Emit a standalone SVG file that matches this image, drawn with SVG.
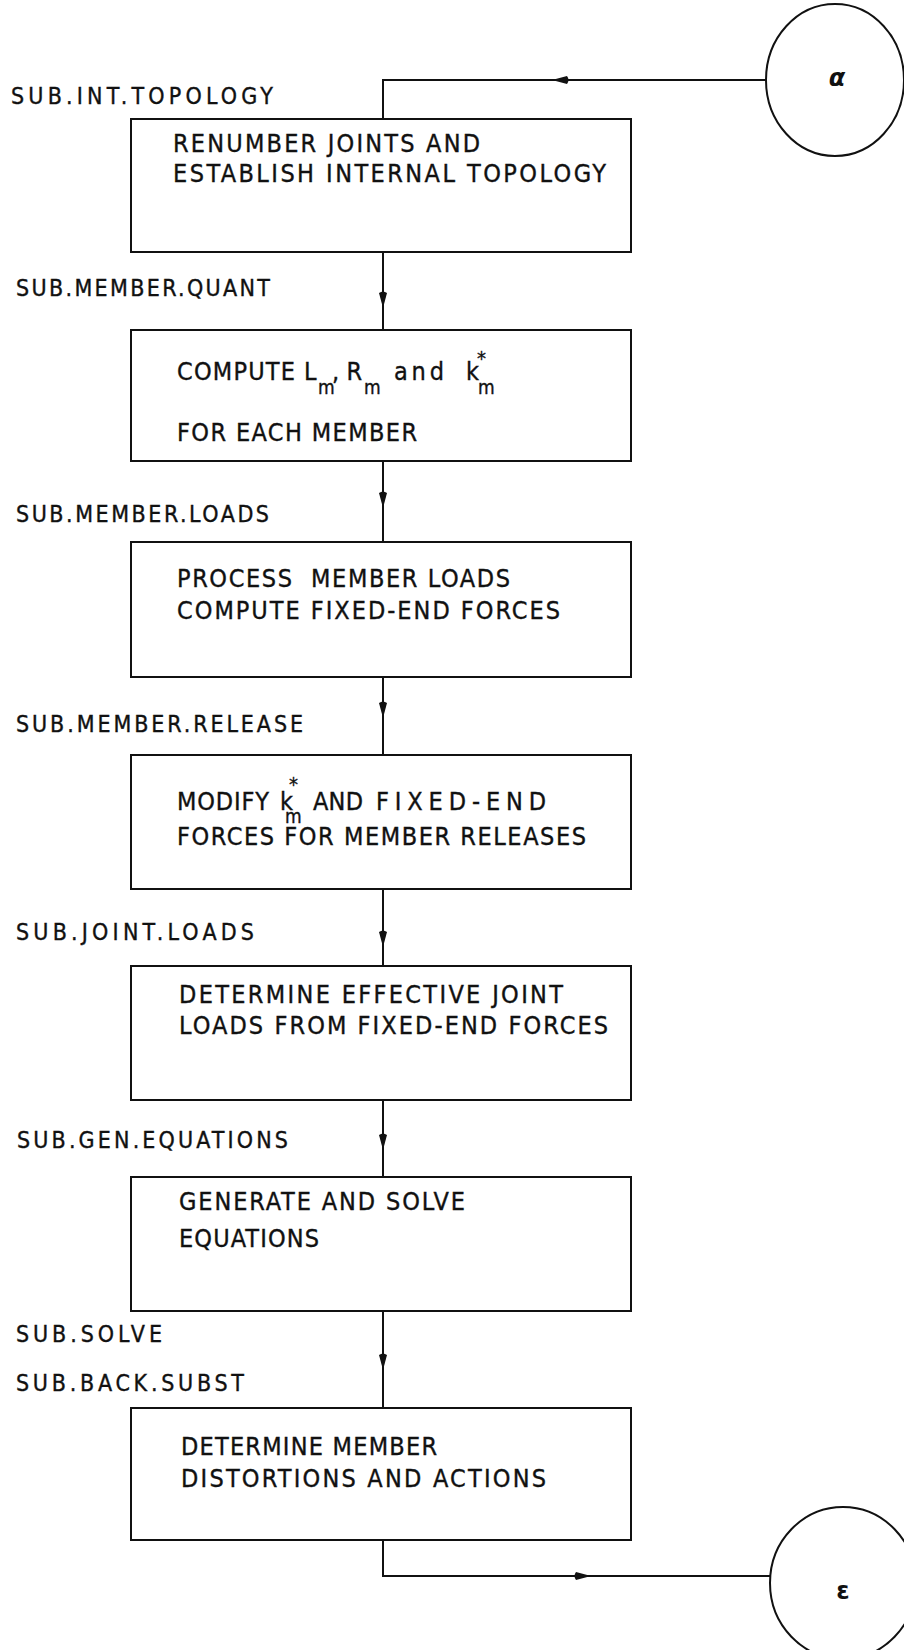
<svg xmlns="http://www.w3.org/2000/svg" width="904" height="1650" viewBox="0 0 904 1650">
<defs>
<marker id="arr" viewBox="0 0 18 10" refX="18" refY="5" markerWidth="18" markerHeight="10" markerUnits="userSpaceOnUse" orient="auto">
<path d="M18,5 L3,1 Q0,5 3,9 Z" fill="#111"/>
</marker>
<style>
.box{fill:#fff;stroke:#111;stroke-width:2}
.ln{fill:none;stroke:#111;stroke-width:2}
.lbl,.txt,.sub,.star{font-family:"DejaVu Sans Condensed","DejaVu Sans Mono",monospace;font-stretch:condensed;fill:#111;stroke:#111;stroke-width:0.35}
.lbl{font-size:23px}
.txt{font-size:25px}
.sub{font-size:19px}
.star{font-size:20px}
.greek{font-family:"DejaVu Sans","Liberation Sans",sans-serif;font-size:24px;fill:#111;text-anchor:middle;font-weight:bold}
</style>
</defs>
<rect width="904" height="1650" fill="#fff"/>

<g id="connectors">
<path class="ln" d="M766,80 L552,80" marker-end="url(#arr)"/>
<path class="ln" d="M552,80 L383,80 L383,119"/>
<path class="ln" d="M383,252 L383,308" marker-end="url(#arr)"/>
<path class="ln" d="M383,308 L383,330"/>
<path class="ln" d="M383,461 L383,508" marker-end="url(#arr)"/>
<path class="ln" d="M383,508 L383,542"/>
<path class="ln" d="M383,677 L383,718" marker-end="url(#arr)"/>
<path class="ln" d="M383,718 L383,755"/>
<path class="ln" d="M383,889 L383,947" marker-end="url(#arr)"/>
<path class="ln" d="M383,947 L383,966"/>
<path class="ln" d="M383,1100 L383,1150" marker-end="url(#arr)"/>
<path class="ln" d="M383,1150 L383,1177"/>
<path class="ln" d="M383,1311 L383,1370" marker-end="url(#arr)"/>
<path class="ln" d="M383,1370 L383,1408"/>
<path class="ln" d="M383,1540 L383,1576 L591,1576" marker-end="url(#arr)"/>
<path class="ln" d="M591,1576 L770,1576"/>
</g>

<g id="alpha">
<ellipse cx="835" cy="80" rx="69" ry="76" fill="none" stroke="#111" stroke-width="2"/>
<text class="greek" x="837" y="86" font-style="italic">α</text>
</g>

<g id="epsilon">
<ellipse cx="843" cy="1583" rx="73" ry="76" fill="none" stroke="#111" stroke-width="2"/>
<text class="greek" x="843" y="1599">ε</text>
</g>

<g id="labels">
<text class="lbl" x="11" y="104" textLength="262" lengthAdjust="spacing">SUB.INT.TOPOLOGY</text>
<text class="lbl" x="16" y="296" textLength="254" lengthAdjust="spacing">SUB.MEMBER.QUANT</text>
<text class="lbl" x="16" y="522" textLength="253" lengthAdjust="spacing">SUB.MEMBER.LOADS</text>
<text class="lbl" x="16" y="732" textLength="287" lengthAdjust="spacing">SUB.MEMBER.RELEASE</text>
<text class="lbl" x="16" y="940" textLength="238" lengthAdjust="spacing">SUB.JOINT.LOADS</text>
<text class="lbl" x="17" y="1148" textLength="271" lengthAdjust="spacing">SUB.GEN.EQUATIONS</text>
<text class="lbl" x="16" y="1342" textLength="146" lengthAdjust="spacing">SUB.SOLVE</text>
<text class="lbl" x="16" y="1391" textLength="228" lengthAdjust="spacing">SUB.BACK.SUBST</text>
</g>

<g id="box1">
<rect class="box" x="131" y="119" width="500" height="133"/>
<text class="txt" x="173" y="152" textLength="307" lengthAdjust="spacing">RENUMBER JOINTS AND</text>
<text class="txt" x="173" y="182" textLength="433" lengthAdjust="spacing">ESTABLISH INTERNAL TOPOLOGY</text>
</g>

<g id="box2">
<rect class="box" x="131" y="330" width="500" height="131"/>
<text class="txt" x="177" y="380" textLength="118" lengthAdjust="spacing">COMPUTE</text>
<text class="txt" x="304" y="380">L</text>
<text class="sub" x="318" y="394">m</text>
<text class="txt" x="332" y="380" textLength="30" lengthAdjust="spacing">,R</text>
<text class="sub" x="364" y="394">m</text>
<text class="txt" x="394" y="380" textLength="50" lengthAdjust="spacing">and</text>
<text class="txt" x="466" y="380">k</text>
<text class="star" x="477" y="365">*</text>
<text class="sub" x="478" y="394">m</text>
<text class="txt" x="177" y="441" textLength="240" lengthAdjust="spacing">FOR EACH MEMBER</text>
</g>

<g id="box3">
<rect class="box" x="131" y="542" width="500" height="135"/>
<text class="txt" x="177" y="587" textLength="333" lengthAdjust="spacing" xml:space="preserve">PROCESS  MEMBER LOADS</text>
<text class="txt" x="177" y="619" textLength="383" lengthAdjust="spacing">COMPUTE FIXED-END FORCES</text>
</g>

<g id="box4">
<rect class="box" x="131" y="755" width="500" height="134"/>
<text class="txt" x="177" y="810" textLength="92" lengthAdjust="spacing">MODIFY</text>
<text class="txt" x="280" y="810">k</text>
<text class="star" x="289" y="791">*</text>
<text class="sub" x="285" y="823">m</text>
<text class="txt" x="313" y="810" textLength="50" lengthAdjust="spacing">AND</text>
<text class="txt" x="376" y="810" textLength="170" lengthAdjust="spacing">FIXED-END</text>
<text class="txt" x="177" y="845" textLength="409" lengthAdjust="spacing">FORCES FOR MEMBER RELEASES</text>
</g>

<g id="box5">
<rect class="box" x="131" y="966" width="500" height="134"/>
<text class="txt" x="179" y="1003" textLength="384" lengthAdjust="spacing">DETERMINE EFFECTIVE JOINT</text>
<text class="txt" x="179" y="1034" textLength="429" lengthAdjust="spacing">LOADS FROM FIXED-END FORCES</text>
</g>

<g id="box6">
<rect class="box" x="131" y="1177" width="500" height="134"/>
<text class="txt" x="179" y="1210" textLength="286" lengthAdjust="spacing">GENERATE AND SOLVE</text>
<text class="txt" x="179" y="1247" textLength="140" lengthAdjust="spacing">EQUATIONS</text>
</g>

<g id="box7">
<rect class="box" x="131" y="1408" width="500" height="132"/>
<text class="txt" x="181" y="1455" textLength="256" lengthAdjust="spacing">DETERMINE MEMBER</text>
<text class="txt" x="181" y="1487" textLength="365" lengthAdjust="spacing">DISTORTIONS AND ACTIONS</text>
</g>
</svg>
